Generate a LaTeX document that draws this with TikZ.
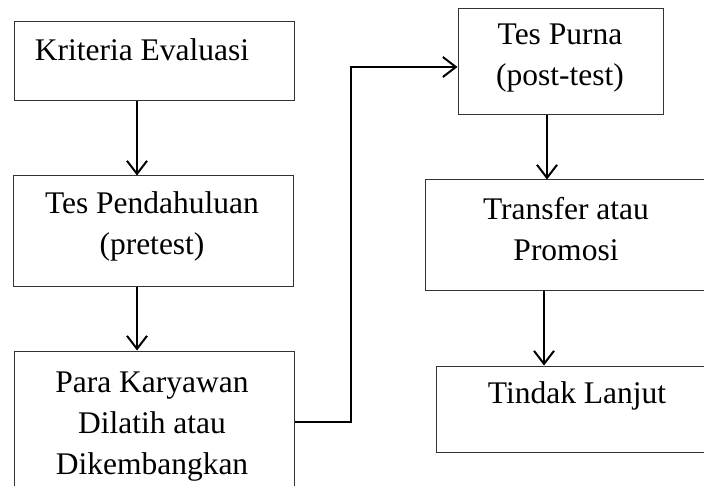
\documentclass[tikz,border=0pt]{standalone}
\usepackage{fontspec}
\setmainfont{Liberation Serif}
\usetikzlibrary{arrows.meta,calc}

\begin{document}
\begin{tikzpicture}[x=1pt,y=-1pt,
box/.style={draw=black!80,line width=1pt,inner sep=0pt},
txt/.style={font=\fontsize{31.5}{41}\selectfont,align=center,inner sep=0pt,anchor=base},
arr/.style={line width=2pt,-{Straight Barb[length=13pt,width=20pt,line width=2pt]}}]
 \useasboundingbox (0,0) rectangle (704,486);
 \clip (0,0) rectangle (704,486);

 % boxes
 \node[box,minimum width=280pt,minimum height=79pt] (krit) at (154,61.5) {};
 \node[box,minimum width=280pt,minimum height=111pt] (pre) at (153,231.5) {};
 \node[box,minimum width=280pt,minimum height=179pt] (train) at (154,440.5) {};
 \node[box,minimum width=205pt,minimum height=106pt] (post) at (560.5,62) {};
 \node[box,minimum width=287pt,minimum height=111pt] (trans) at (568.5,235.5) {};
 \node[box,minimum width=276pt,minimum height=86pt] (lanjut) at (574,409) {};

 % texts (anchored at the baseline of the last line)
 \node[txt] (kritT) at (142,61) {Kriteria Evaluasi};
 \node[txt] (preT) at (152,255) {Tes Pendahuluan\\(pretest)};
 \node[txt] (trainT) at (152,474) {Para Karyawan\\Dilatih atau\\Dikembangkan};
 \node[txt] (postT) at (560,86) {Tes Purna\\(post-test)};
 \node[txt] (transT) at (566,261) {Transfer atau\\Promosi};
 \node[txt] (lanjutT) at (577,403) {Tindak Lanjut};

 % arrows
 \draw[arr] ([xshift=-17pt]krit.south) -- ([xshift=-17pt]krit.south |- pre.north);
 \draw[arr] ([xshift=-16pt]pre.south) -- ([xshift=-16pt]pre.south |- train.north);
 \draw[arr] ([yshift=18.5pt]train.east) -- ++(56,0) |- ([yshift=-5pt]post.west);
 \draw[arr] ([xshift=-13.5pt]post.south) -- ([xshift=-13.5pt]post.south |- trans.north);
 \draw[arr] ([xshift=-24.5pt]trans.south) -- ([xshift=-24.5pt]trans.south |- lanjut.north);
\end{tikzpicture}
\end{document}
